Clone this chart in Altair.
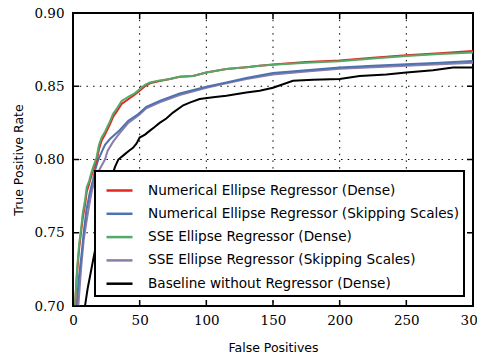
import altair as alt
import pandas as pd

series_names = [
    "Numerical Ellipse Regressor (Dense)",
    "Numerical Ellipse Regressor (Skipping Scales)",
    "SSE Ellipse Regressor (Dense)",
    "SSE Ellipse Regressor (Skipping Scales)",
    "Baseline without Regressor (Dense)",
]
series_colors = ["#e3261f", "#4c72b0", "#55a868", "#8c7ca8", "#000000"]

green_fp = [0, 1.5, 3, 4.7, 6, 7.3, 9, 10.3, 12, 13.5, 15.2, 17.7, 19.5, 21.5, 24, 27.7, 30, 33, 36.5, 42.7, 46, 50, 54, 57.7, 65, 72.7, 80, 90, 100, 115, 130, 140, 150, 175, 200, 225, 250, 275, 300]
green_tpr = [0.68, 0.70, 0.725, 0.743, 0.752, 0.763, 0.772, 0.781, 0.785, 0.79, 0.795, 0.8015, 0.81, 0.815, 0.819, 0.826, 0.831, 0.835, 0.84, 0.8435, 0.845, 0.848, 0.851, 0.8526, 0.854, 0.855, 0.8565, 0.857, 0.8594, 0.8617, 0.863, 0.864, 0.8646, 0.866, 0.867, 0.869, 0.8707, 0.872, 0.873]

red_fp = [0, 1.5, 3, 4.7, 6, 7.3, 9, 10.3, 12, 13.5, 15.2, 17.7, 19.5, 21.5, 24, 27.7, 30, 33, 36.5, 42.7, 46, 50, 54, 57.7, 65, 72.7, 80, 90, 100, 115, 130, 140, 150, 175, 200, 225, 250, 275, 300]
red_tpr = [0.68, 0.70, 0.722, 0.740, 0.750, 0.760, 0.769, 0.778, 0.783, 0.788, 0.793, 0.799, 0.807, 0.813, 0.817, 0.824, 0.829, 0.833, 0.838, 0.842, 0.844, 0.847, 0.850, 0.852, 0.8535, 0.855, 0.8565, 0.857, 0.8594, 0.8617, 0.863, 0.864, 0.8648, 0.8665, 0.8675, 0.8695, 0.8712, 0.8725, 0.874]

blue_fp = [0, 2.7, 4.5, 6.5, 8, 10, 12.5, 15, 16.5, 19, 22, 24, 27.7, 35, 41.5, 49, 55, 65, 80, 100, 115, 130, 150, 175, 200, 225, 250, 275, 300]
blue_tpr = [0.68, 0.70, 0.72, 0.736, 0.75, 0.765, 0.777, 0.786, 0.7925, 0.80, 0.806, 0.81, 0.814, 0.82, 0.8265, 0.831, 0.836, 0.84, 0.845, 0.8497, 0.8526, 0.8556, 0.859, 0.861, 0.8628, 0.864, 0.865, 0.866, 0.8673]

purple_fp = [0, 4, 6, 8, 10, 12, 14, 16, 18, 21, 24, 26, 30, 35, 41.5, 49, 55, 65, 80, 100, 115, 130, 150, 175, 200, 225, 250, 275, 300]
purple_tpr = [0.68, 0.70, 0.725, 0.745, 0.757, 0.768, 0.778, 0.785, 0.79, 0.795, 0.80, 0.806, 0.812, 0.818, 0.825, 0.83, 0.835, 0.839, 0.844, 0.849, 0.852, 0.855, 0.858, 0.86, 0.862, 0.863, 0.864, 0.865, 0.866]

black_fp = [8, 9, 11, 12.7, 15, 18, 21, 24, 27, 29, 31.5, 34, 38, 42, 45, 47.7, 50, 54, 57.7, 61, 65, 70, 75, 82.7, 88, 95, 105, 115, 130, 140, 150, 165, 180, 200, 215, 235, 250, 270, 285, 300]
black_tpr = [0.69, 0.70, 0.712, 0.72, 0.731, 0.745, 0.758, 0.77, 0.781, 0.788, 0.795, 0.80, 0.803, 0.806, 0.808, 0.811, 0.815, 0.817, 0.8197, 0.822, 0.825, 0.828, 0.832, 0.837, 0.839, 0.8413, 0.8425, 0.8435, 0.8458, 0.847, 0.849, 0.8537, 0.8545, 0.8549, 0.857, 0.858, 0.8594, 0.861, 0.8628, 0.8628]

x_ticks = [0, 50, 100, 150, 200, 250, 300]
y_ticks = [0.70, 0.75, 0.80, 0.85, 0.90]

W, H = 400, 293

draw_order = [series_names[4], series_names[3], series_names[1], series_names[0], series_names[2]]
rows = []
for name, fps, tprs in [
    (series_names[4], black_fp, black_tpr),
    (series_names[3], purple_fp, purple_tpr),
    (series_names[1], blue_fp, blue_tpr),
    (series_names[0], red_fp, red_tpr),
    (series_names[2], green_fp, green_tpr),
]:
    for i, (f, t) in enumerate(zip(fps, tprs)):
        rows.append({"series": name, "fp": f, "tpr": t, "order": i,
                     "layer": draw_order.index(name)})
df = pd.DataFrame(rows)

xs = alt.Scale(domain=[0, 300], nice=False, zero=False)
ys = alt.Scale(domain=[0.70, 0.90], nice=False, zero=False)
xaxis = alt.Axis(values=x_ticks, grid=False, ticks=False, domain=False, labelFlush=False,
                 labelPadding=7, titlePadding=15, format="d")
yaxis = alt.Axis(values=y_ticks, grid=False, ticks=False, domain=False, labelFlush=False,
                 labelPadding=9, titlePadding=8, format=".2f")
XT = "False Positives"
YT = "True Positive Rate"

xt = pd.DataFrame({"v": x_ticks})
yt = pd.DataFrame({"v": y_ticks})

gx = alt.Chart(xt).mark_rule(color="black", strokeWidth=1, strokeDash=[1.5, 5.2]).encode(
    x=alt.X("v:Q", scale=xs, title=XT, axis=xaxis), y=alt.value(0), y2=alt.value(H))
gy = alt.Chart(yt).mark_rule(color="black", strokeWidth=1, strokeDash=[1.5, 5.2]).encode(
    y=alt.Y("v:Q", scale=ys, title=YT, axis=yaxis), x=alt.value(0), x2=alt.value(W))

lines = alt.Chart(df).mark_line(strokeWidth=2, clip=True).encode(
    x=alt.X("fp:Q", scale=xs, title=XT, axis=xaxis),
    y=alt.Y("tpr:Q", scale=ys, title=YT, axis=yaxis),
    color=alt.Color("series:N", scale=alt.Scale(domain=series_names, range=series_colors),
                    legend=alt.Legend(title=None, orient="none", legendX=22, legendY=158)),
    detail="layer:N",
    order="order:Q",
)

bt = alt.Chart(xt).mark_rule(color="black", strokeWidth=1.5).encode(
    x=alt.X("v:Q", scale=xs, title=XT, axis=xaxis), y=alt.value(H), y2=alt.value(H - 6))
tt = alt.Chart(xt).mark_rule(color="black", strokeWidth=1.5).encode(
    x=alt.X("v:Q", scale=xs, title=XT, axis=xaxis), y=alt.value(0), y2=alt.value(6))
lt = alt.Chart(yt).mark_rule(color="black", strokeWidth=1.5).encode(
    y=alt.Y("v:Q", scale=ys, title=YT, axis=yaxis), x=alt.value(0), x2=alt.value(6))
rt = alt.Chart(yt).mark_rule(color="black", strokeWidth=1.5).encode(
    y=alt.Y("v:Q", scale=ys, title=YT, axis=yaxis), x=alt.value(W), x2=alt.value(W - 6))

chart = alt.layer(gx, gy, lines, bt, tt, lt, rt).properties(
    width=W, height=H,
    autosize=alt.AutoSizeParams(type="none"),
    padding={"left": 65, "top": 5, "right": 4, "bottom": 50},
).configure_view(stroke="black", strokeWidth=2).configure_axis(
    labelFont="DejaVu Serif", labelFontSize=13.5, labelColor="black",
    titleFont="DejaVu Sans", titleFontSize=12.5, titleFontWeight="normal", titleColor="black",
).configure_legend(
    fillColor="white", strokeColor="black", strokeWidth=2, padding=5, cornerRadius=0,
    symbolType="stroke", symbolSize=676, symbolStrokeWidth=2.5, symbolOffset=5,
    labelOffset=14, labelFont="DejaVu Sans", labelFontSize=13.6, labelColor="black",
    rowPadding=1.3, labelLimit=400,
)

chart.save("out.html", embed_options={"renderer": "svg", "actions": False})
